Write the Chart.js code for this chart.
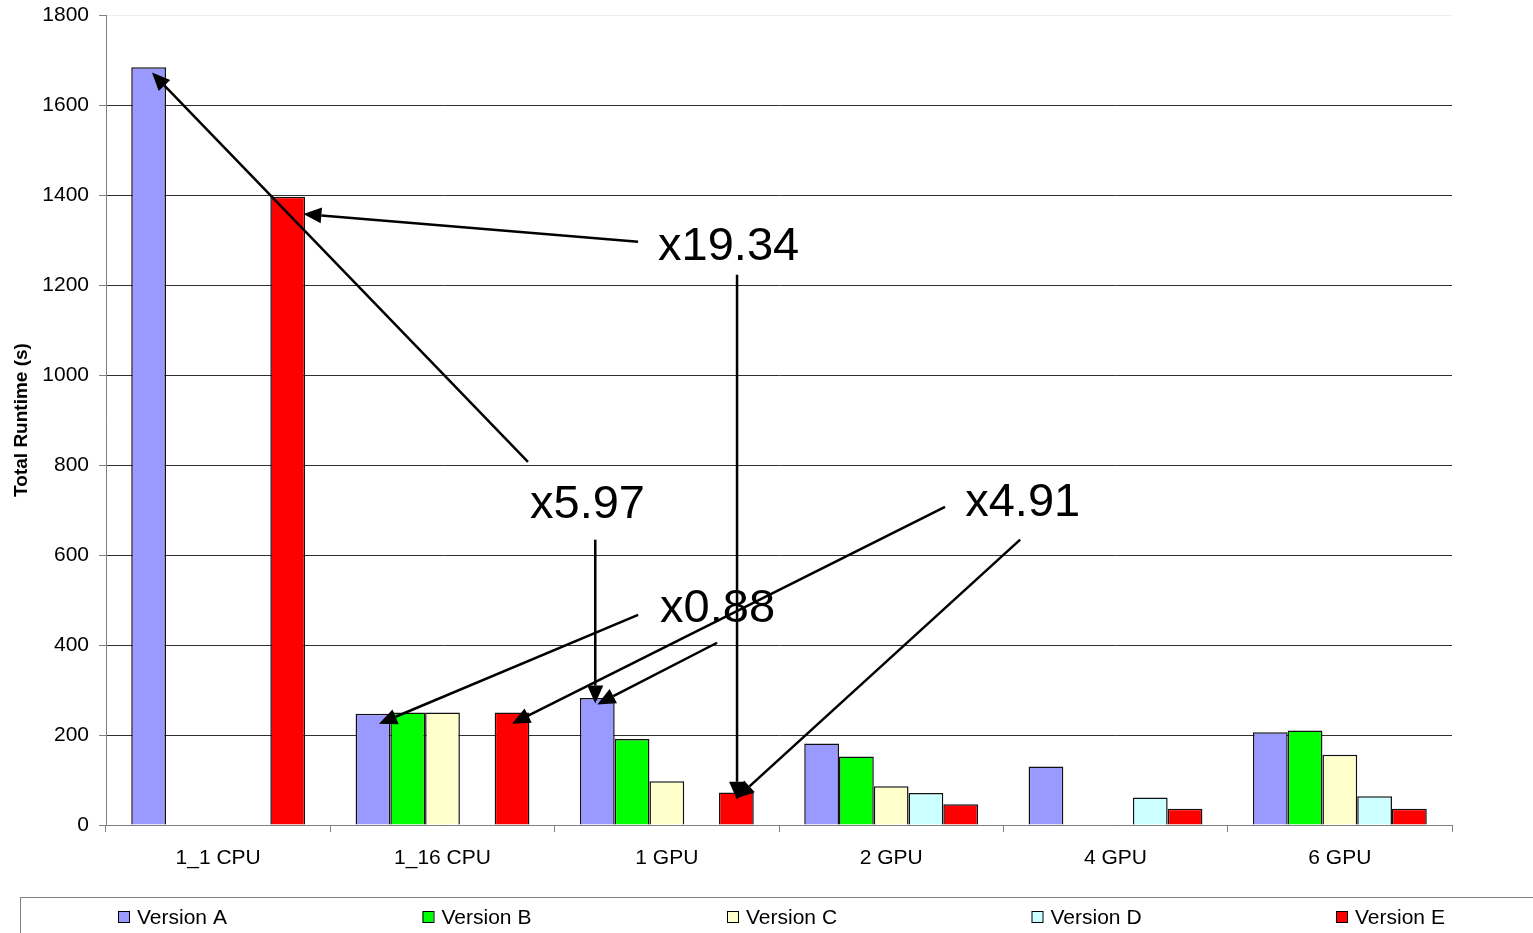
<!DOCTYPE html>
<html>
<head>
<meta charset="utf-8">
<title>Total Runtime</title>
<script src="https://cdn.jsdelivr.net/npm/chart.js@4/dist/chart.umd.min.js"></script>
<style>
  html, body { margin: 0; padding: 0; background: #fff; overflow: hidden; }
  canvas { display: block; }
</style>
</head>
<body>
<canvas id="runtime" width="1533" height="933"></canvas>
<script>
// Runtime (seconds) per hardware configuration and code version
const categories = ['1_1 CPU', '1_16 CPU', '1 GPU', '2 GPU', '4 GPU', '6 GPU'];
const versionA = [1684, 247, 282, 181, 130, 206];
const versionB = [null, 250, 191, 152, null, 210];
const versionC = [null, 250, 97, 86, null, 156];
const versionD = [null, null, null, 71, 61, 64];
const versionE = [1396, 250, 72.2, 46, 36, 36];
const seriesNames = ['Version A', 'Version B', 'Version C', 'Version D', 'Version E'];
const seriesColors = ['#9999FF', '#00FF00', '#FFFFCC', '#CCFFFF', '#FF0000'];
const yMin = 0, yMax = 1800, yStep = 200;

// Speed-up callouts, placed in data space:
// u = position in category units (0 = centre of the first category), v = runtime in seconds
const speedupLabels = [
  { text: 'x19.34', u: 1.961, v: 1256 },
  { text: 'x5.97',  u: 1.390, v: 682 },
  { text: 'x0.88',  u: 1.970, v: 452 },
  { text: 'x4.91',  u: 3.330, v: 686 }
];
const speedupArrows = [
  { from: [1.381, 807],  to: [-0.295, 1672] },
  { from: [1.681, 634],  to: [1.681, 270] },
  { from: [1.872, 1296], to: [0.380, 1358] },
  { from: [2.313, 1223], to: [2.313, 56] },
  { from: [1.872, 467],  to: [0.717, 225] },
  { from: [2.224, 405],  to: [1.690, 268] },
  { from: [3.240, 707],  to: [1.310, 225] },
  { from: [3.575, 634],  to: [2.309, 59] }
];

const FONT = "'Liberation Sans', Arial, Helvetica, sans-serif";
Chart.defaults.font.family = FONT;
Chart.defaults.color = '#000';

const seriesValues = [versionA, versionB, versionC, versionD, versionE];

function toPixel(chart, u, v) {
  const xs = chart.scales.x, ys = chart.scales.y;
  const x0 = xs.getPixelForValue(0);
  const step = xs.getPixelForValue(1) - x0;
  return [x0 + u * step, ys.getPixelForValue(v)];
}

function drawArrow(ctx, x1, y1, x2, y2) {
  const ang = Math.atan2(y2 - y1, x2 - x1);
  const headLen = 18, headHalf = 8;
  const bx = x2 - headLen * Math.cos(ang), by = y2 - headLen * Math.sin(ang);
  ctx.beginPath();
  ctx.moveTo(x1, y1);
  ctx.lineTo(bx, by);
  ctx.stroke();
  ctx.beginPath();
  ctx.moveTo(x2, y2);
  ctx.lineTo(bx + headHalf * Math.sin(ang), by - headHalf * Math.cos(ang));
  ctx.lineTo(bx - headHalf * Math.sin(ang), by + headHalf * Math.cos(ang));
  ctx.closePath();
  ctx.fill();
}

const calloutPlugin = {
  id: 'speedupCallouts',
  afterDatasetsDraw(chart) {
    const ctx = chart.ctx;
    ctx.save();
    ctx.strokeStyle = '#000';
    ctx.fillStyle = '#000';
    ctx.lineWidth = 2.5;
    speedupArrows.forEach(a => {
      const [x1, y1] = toPixel(chart, a.from[0], a.from[1]);
      const [x2, y2] = toPixel(chart, a.to[0], a.to[1]);
      drawArrow(ctx, x1, y1, x2, y2);
    });
    ctx.font = '47px ' + FONT;
    ctx.textAlign = 'left';
    ctx.textBaseline = 'alphabetic';
    speedupLabels.forEach(l => {
      const [x, y] = toPixel(chart, l.u, l.v);
      ctx.fillText(l.text, x, y);
    });
    ctx.restore();
  }
};

// Boxed legend strip under the category axis, items evenly spaced
const legendPlugin = {
  id: 'boxedLegend',
  afterDraw(chart) {
    const ctx = chart.ctx;
    ctx.save();
    ctx.strokeStyle = '#808080';
    ctx.lineWidth = 1;
    ctx.strokeRect(20.5, 897.5, 1600, 100);
    ctx.font = '21px ' + FONT;
    ctx.textBaseline = 'middle';
    ctx.textAlign = 'left';
    chart.data.datasets.forEach((ds, i) => {
      const x = 118 + i * 304.5;
      ctx.fillStyle = ds.backgroundColor;
      ctx.fillRect(x, 911, 11, 11);
      ctx.strokeStyle = '#000';
      ctx.strokeRect(x + 0.5, 911.5, 11, 11);
      ctx.fillStyle = '#000';
      ctx.fillText(ds.label, x + 19, 918);
    });
    ctx.restore();
  }
};

new Chart(document.getElementById('runtime'), {
  type: 'bar',
  data: {
    labels: categories,
    datasets: seriesNames.map((name, i) => ({
      label: name,
      data: seriesValues[i],
      backgroundColor: seriesColors[i],
      borderColor: '#111',
      borderWidth: 1.5,
      categoryPercentage: 0.775,
      barPercentage: 1
    }))
  },
  options: {
    responsive: false,
    animation: false,
    devicePixelRatio: 1,
    layout: { padding: { top: 15, right: 81, bottom: 48, left: 0 } },
    plugins: {
      legend: { display: false },
      tooltip: { enabled: false }
    },
    scales: {
      x: {
        grid: { offset: true, drawOnChartArea: false, tickLength: 7, color: '#808080' },
        border: { color: '#808080', width: 1 },
        ticks: { color: '#000', font: { size: 21 }, padding: 14, maxRotation: 0 },
        afterFit(scale) { scale.height = 60; }
      },
      y: {
        min: yMin,
        max: yMax,
        ticks: {
          stepSize: yStep,
          color: '#000',
          font: { size: 21 },
          padding: 10,
          callback: v => String(v)
        },
        grid: {
          color: c => (c.tick && c.tick.value === yMax) ? '#eeeeee' : '#303030',
          tickColor: '#808080',
          tickLength: 7
        },
        border: { color: '#808080', width: 1 },
        title: {
          display: true,
          text: 'Total Runtime (s)',
          color: '#000',
          font: { size: 19, weight: 'bold' },
          padding: { top: 10, bottom: 0 }
        },
        afterFit(scale) {
          scale.width = 106;
          scale.paddingTop = 0;
          scale.paddingBottom = 0;
        }
      }
    }
  },
  plugins: [calloutPlugin, legendPlugin]
});
</script>
</body>
</html>
